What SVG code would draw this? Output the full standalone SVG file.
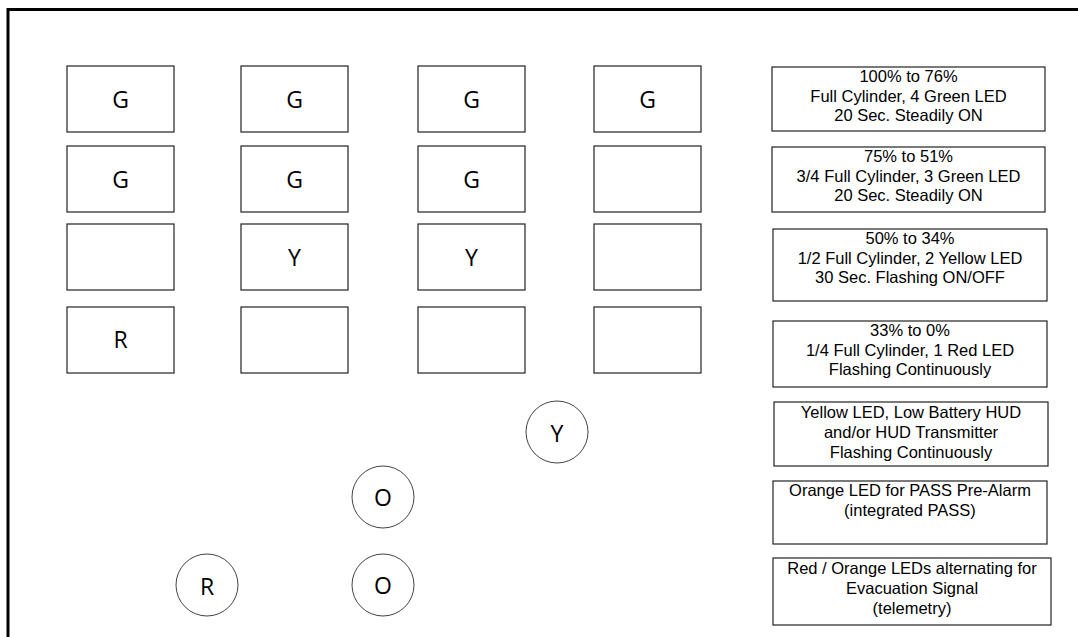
<svg xmlns="http://www.w3.org/2000/svg" width="1078" height="637" viewBox="0 0 1078 637">
<style>
.frame{fill:none;stroke:#000;stroke-width:3}
.led{fill:#fff;stroke:#222;stroke-width:1.2}
.desc{fill:#fff;stroke:#222;stroke-width:1.2}
.dot{fill:#fff;stroke:#444;stroke-width:1}
.big{font-family:"Open Sans","Liberation Sans",sans-serif;font-size:23px;fill:#000;text-anchor:middle;dominant-baseline:central}
.small{font-family:"Liberation Sans",Arial,sans-serif;font-size:16.5px;fill:#000;text-anchor:middle}
</style>
<rect width="1078" height="637" fill="#fff"/>
<path class="frame" d="M8,640 V9.5 H1080"/>
<g id="leds">
<g id="r1c1"><rect class="led" x="67" y="66" width="107" height="66"/><text class="big" x="120.5" y="99">G</text></g>
<g id="r1c2"><rect class="led" x="241" y="66" width="107" height="66"/><text class="big" x="294.5" y="99">G</text></g>
<g id="r1c3"><rect class="led" x="418" y="66" width="107" height="66"/><text class="big" x="471.5" y="99">G</text></g>
<g id="r1c4"><rect class="led" x="594" y="66" width="107" height="66"/><text class="big" x="647.5" y="99">G</text></g>
<g id="r2c1"><rect class="led" x="67" y="146" width="107" height="66"/><text class="big" x="120.5" y="179">G</text></g>
<g id="r2c2"><rect class="led" x="241" y="146" width="107" height="66"/><text class="big" x="294.5" y="179">G</text></g>
<g id="r2c3"><rect class="led" x="418" y="146" width="107" height="66"/><text class="big" x="471.5" y="179">G</text></g>
<g id="r2c4"><rect class="led" x="594" y="146" width="107" height="66"/></g>
<g id="r3c1"><rect class="led" x="67" y="224" width="107" height="66"/></g>
<g id="r3c2"><rect class="led" x="241" y="224" width="107" height="66"/><text class="big" x="294.5" y="257">Y</text></g>
<g id="r3c3"><rect class="led" x="418" y="224" width="107" height="66"/><text class="big" x="471.5" y="257">Y</text></g>
<g id="r3c4"><rect class="led" x="594" y="224" width="107" height="66"/></g>
<g id="r4c1"><rect class="led" x="67" y="307" width="107" height="66"/><text class="big" x="120.5" y="339">R</text></g>
<g id="r4c2"><rect class="led" x="241" y="307" width="107" height="66"/></g>
<g id="r4c3"><rect class="led" x="418" y="307" width="107" height="66"/></g>
<g id="r4c4"><rect class="led" x="594" y="307" width="107" height="66"/></g>
</g>
<g id="circles">
<g id="cY"><circle class="dot" cx="557" cy="432" r="31"/><text class="big" x="557" y="433">Y</text></g>
<g id="cO1"><circle class="dot" cx="383" cy="497" r="31"/><text class="big" x="383" y="497">O</text></g>
<g id="cO2"><circle class="dot" cx="383" cy="585" r="31"/><text class="big" x="383" y="585">O</text></g>
<g id="cR"><circle class="dot" cx="207" cy="585" r="31"/><text class="big" x="207" y="586">R</text></g>
</g>
<g id="legend">
<g id="d1"><rect class="desc" x="772" y="67" width="273" height="64"/>
<text class="small" x="908.5" y="82">100% to 76%</text><text class="small" x="908.5" y="102">Full Cylinder, 4 Green LED</text><text class="small" x="908.5" y="121">20 Sec. Steadily ON</text></g>
<g id="d2"><rect class="desc" x="772" y="147" width="273" height="65"/>
<text class="small" x="908.5" y="162">75% to 51%</text><text class="small" x="908.5" y="182">3/4 Full Cylinder, 3 Green LED</text><text class="small" x="908.5" y="201">20 Sec. Steadily ON</text></g>
<g id="d3"><rect class="desc" x="773" y="229" width="274" height="72"/>
<text class="small" x="910" y="244">50% to 34%</text><text class="small" x="910" y="264">1/2 Full Cylinder, 2 Yellow LED</text><text class="small" x="910" y="283">30 Sec. Flashing ON/OFF</text></g>
<g id="d4"><rect class="desc" x="773" y="321" width="274" height="66"/>
<text class="small" x="910" y="336">33% to 0%</text><text class="small" x="910" y="356">1/4 Full Cylinder, 1 Red LED</text><text class="small" x="910" y="375">Flashing Continuously</text></g>
<g id="d5"><rect class="desc" x="774" y="402" width="274" height="64"/>
<text class="small" x="911" y="418">Yellow LED, Low Battery HUD</text><text class="small" x="911" y="438">and/or HUD Transmitter</text><text class="small" x="911" y="458">Flashing Continuously</text></g>
<g id="d6"><rect class="desc" x="773" y="481" width="274" height="63"/>
<text class="small" x="910" y="496">Orange LED for PASS Pre-Alarm</text><text class="small" x="910" y="516">(integrated PASS)</text></g>
<g id="d7"><rect class="desc" x="773" y="558" width="278" height="67"/>
<text class="small" x="912" y="574">Red / Orange LEDs alternating for</text><text class="small" x="912" y="594">Evacuation Signal</text><text class="small" x="912" y="614">(telemetry)</text></g>
</g>
</svg>
